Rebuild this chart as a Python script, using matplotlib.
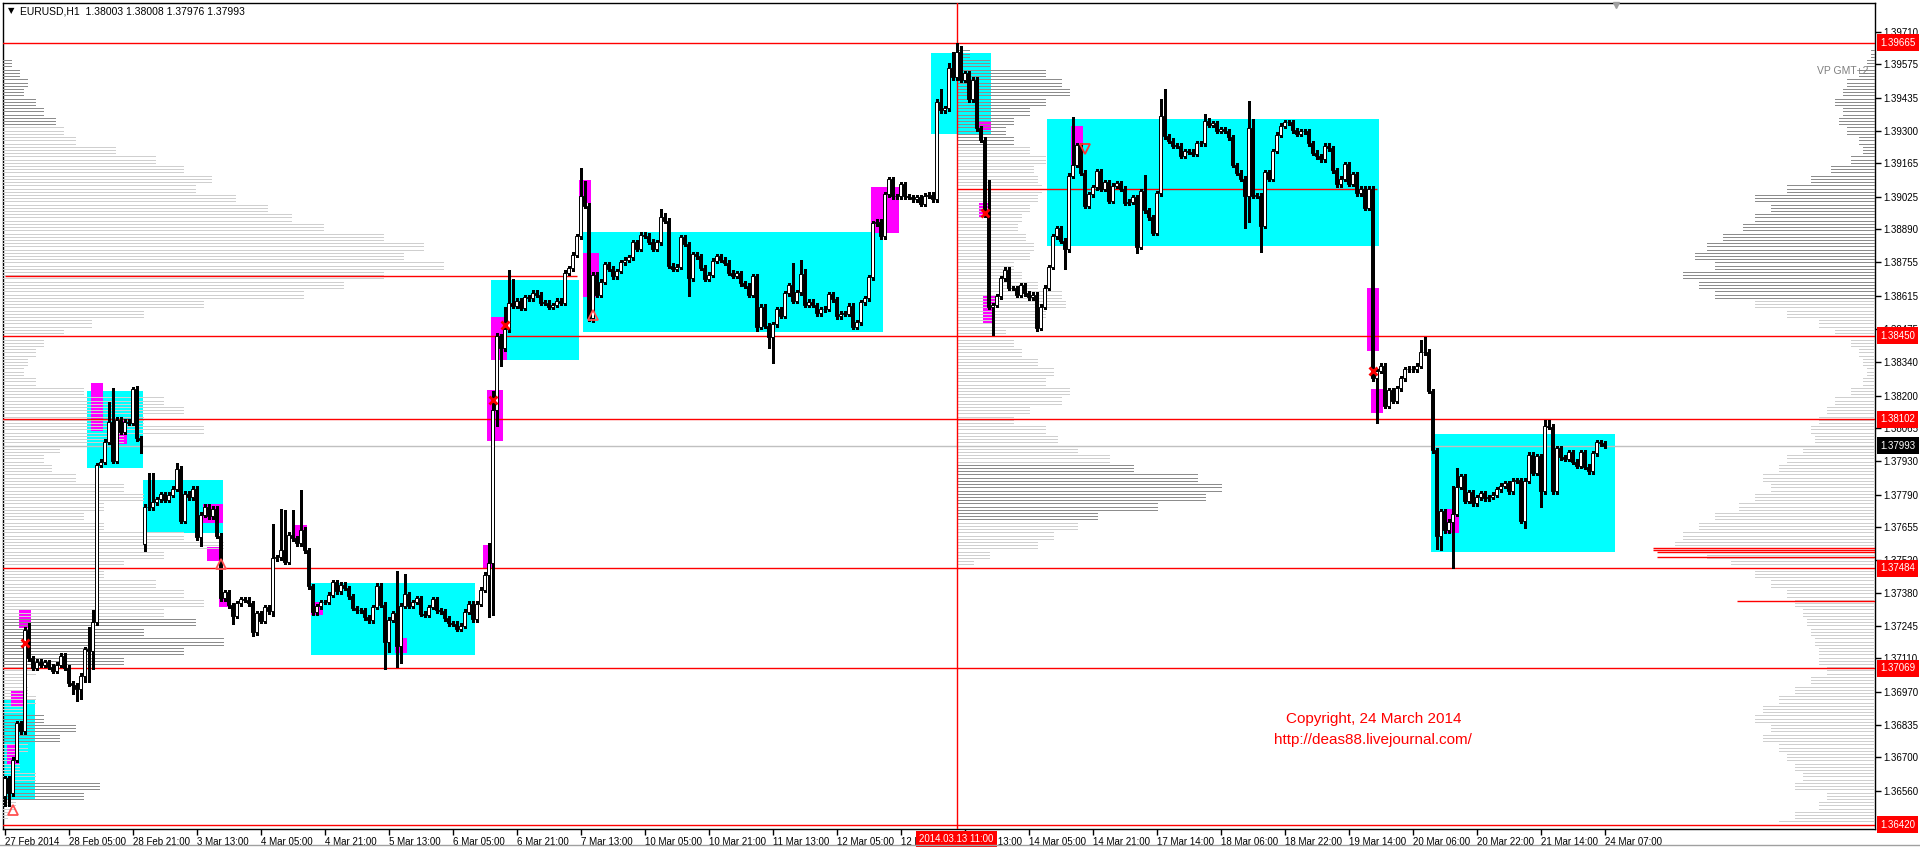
import numpy as np
import matplotlib
matplotlib.use("Agg")
import matplotlib.pyplot as plt
from matplotlib.lines import Line2D

plt.rcParams['font.family'] = ['Liberation Sans', 'DejaVu Sans']

# ---------------- data ----------------
first_open = 1.36540
closes = [
    1.36613, 1.36551, 1.36689, 1.36841, 1.36807, 1.37229, 1.37111, 1.37072, 1.37097, 1.37083,
    1.37093, 1.37076, 1.37059, 1.37083, 1.37122, 1.37072, 1.37007, 1.36998, 1.36982, 1.37038,
    1.37148, 1.37139, 1.37260, 1.37913, 1.37927, 1.38010, 1.38093, 1.37931, 1.38100, 1.38051,
    1.38093, 1.38089, 1.38228, 1.38024, 1.38017, 1.37740, 1.37737, 1.37758, 1.37771, 1.37791,
    1.37768, 1.37789, 1.37814, 1.37897, 1.37681, 1.37793, 1.37778, 1.37814, 1.37612, 1.37706,
    1.37740, 1.37699, 1.37731, 1.37620, 1.37360, 1.37385, 1.37330, 1.37288, 1.37339, 1.37356,
    1.37353, 1.37339, 1.37218, 1.37298, 1.37267, 1.37323, 1.37305, 1.37526, 1.37530, 1.37561,
    1.37512, 1.37623, 1.37609, 1.37588, 1.37644, 1.37558, 1.37409, 1.37301, 1.37326, 1.37344,
    1.37344, 1.37374, 1.37427, 1.37388, 1.37416, 1.37402, 1.37367, 1.37319, 1.37309, 1.37309,
    1.37281, 1.37268, 1.37323, 1.37411, 1.37333, 1.37180, 1.37270, 1.37298, 1.37160, 1.37328,
    1.37377, 1.37328, 1.37344, 1.37360, 1.37295, 1.37290, 1.37323, 1.37356, 1.37309, 1.37305,
    1.37277, 1.37256, 1.37254, 1.37232, 1.37245, 1.37303, 1.37337, 1.37273, 1.37337, 1.37395,
    1.37457, 1.37508, 1.38142, 1.38446, 1.38397, 1.38476, 1.38587, 1.38574, 1.38594, 1.38566,
    1.38608, 1.38605, 1.38628, 1.38619, 1.38587, 1.38587, 1.38570, 1.38577, 1.38594, 1.38587,
    1.38711, 1.38729, 1.38785, 1.38861, 1.39029, 1.38988, 1.38522, 1.38702, 1.38619, 1.38674,
    1.38746, 1.38727, 1.38695, 1.38718, 1.38754, 1.38764, 1.38774, 1.38837, 1.38810, 1.38868,
    1.38865, 1.38840, 1.38810, 1.38837, 1.38941, 1.38926, 1.38739, 1.38727, 1.38735, 1.38858,
    1.38830, 1.38688, 1.38787, 1.38778, 1.38732, 1.38685, 1.38702, 1.38760, 1.38780, 1.38764,
    1.38753, 1.38711, 1.38699, 1.38709, 1.38667, 1.38656, 1.38619, 1.38695, 1.38487, 1.38570,
    1.38490, 1.38443, 1.38497, 1.38559, 1.38533, 1.38626, 1.38660, 1.38595, 1.38630, 1.38704,
    1.38577, 1.38591, 1.38577, 1.38543, 1.38559, 1.38561, 1.38622, 1.38601, 1.38529, 1.38540,
    1.38541, 1.38573, 1.38485, 1.38505, 1.38588, 1.38605, 1.38692, 1.38916, 1.38923, 1.38861,
    1.39036, 1.39099, 1.39027, 1.39027, 1.39078, 1.39027, 1.39025, 1.39016, 1.39023, 1.38996,
    1.39030, 1.39034, 1.39016, 1.39421, 1.39384, 1.39393, 1.39559, 1.39522, 1.39628, 1.39511,
    1.39539, 1.39431, 1.39511, 1.39310, 1.39262, 1.38951, 1.38570, 1.38577, 1.38612, 1.38688,
    1.38723, 1.38647, 1.38647, 1.38619, 1.38660, 1.38626, 1.38608, 1.38619, 1.38483, 1.38570,
    1.38649, 1.38734, 1.38861, 1.38895, 1.38844, 1.38808, 1.39113, 1.39158, 1.39241, 1.39126,
    1.38989, 1.39036, 1.39066, 1.39133, 1.39059, 1.39086, 1.39010, 1.39071, 1.39082, 1.39059,
    1.39002, 1.39006, 1.39023, 1.38819, 1.39050, 1.38969, 1.38941, 1.38877, 1.39041, 1.39361,
    1.39276, 1.39259, 1.39238, 1.39237, 1.39197, 1.39216, 1.39213, 1.39204, 1.39248, 1.39248,
    1.39341, 1.39324, 1.39331, 1.39299, 1.39306, 1.39299, 1.39272, 1.39158, 1.39126, 1.39100,
    1.39031, 1.39310, 1.39031, 1.39031, 1.38906, 1.39128, 1.39100, 1.39216, 1.39283, 1.39320,
    1.39335, 1.39335, 1.39301, 1.39287, 1.39299, 1.39298, 1.39248, 1.39209, 1.39193, 1.39182,
    1.39238, 1.39227, 1.39135, 1.39078, 1.39100, 1.39160, 1.39080, 1.39120, 1.39040, 1.39060,
    1.38980, 1.39060, 1.38273, 1.38303, 1.38324, 1.38159, 1.38224, 1.38179, 1.38231, 1.38273,
    1.38310, 1.38312, 1.38310, 1.38324, 1.38381, 1.38383, 1.38220, 1.37973, 1.37620, 1.37720,
    1.37641, 1.37678, 1.37710, 1.37823, 1.37865, 1.37765, 1.37799, 1.37754, 1.37779, 1.37796,
    1.37775, 1.37780, 1.37789, 1.37812, 1.37826, 1.37837, 1.37803, 1.37847, 1.37850, 1.37682,
    1.37847, 1.37955, 1.37881, 1.37948, 1.37803, 1.38076, 1.38072, 1.37803, 1.37982, 1.37945,
    1.37938, 1.37966, 1.37927, 1.37910, 1.37966, 1.37906, 1.37886, 1.37962, 1.38007, 1.38002,
    1.37993,
]
gap_opens = {35: 1.37584}          # weekend gap
wick_hi = {6: 1.37256, 21: 1.37242, 22: 1.37311, 26: 1.38173, 27: 1.38231, 33: 1.38242,
           36: 1.37880, 37: 1.37880, 43: 1.37920, 67: 1.37668, 69: 1.37730, 70: 1.37724,
           72: 1.37724, 74: 1.37810, 98: 1.37474, 100: 1.37460, 121: 1.37588, 122: 1.38218,
           123: 1.38460, 125: 1.38570, 126: 1.38722, 127: 1.38684, 144: 1.39144, 145: 1.39090,
           164: 1.38975, 165: 1.38960, 197: 1.38750, 199: 1.38764, 200: 1.38727, 234: 1.39472,
           236: 1.39580, 237: 1.39628, 238: 1.39663, 239: 1.39650, 246: 1.39096, 267: 1.39356,
           285: 1.39117, 289: 1.39432, 290: 1.39473, 300: 1.39370, 311: 1.39424, 312: 1.39350,
           354: 1.38432, 355: 1.38443, 362: 1.37826, 363: 1.37899, 385: 1.38100, 386: 1.38100}
wick_lo = {0: 1.36496, 1: 1.36496, 17: 1.36963, 18: 1.36935, 19: 1.36940, 20: 1.37014,
           21: 1.37014, 22: 1.37065, 34: 1.37964, 35: 1.37554, 49: 1.37578, 57: 1.37253,
           62: 1.37205, 67: 1.37287, 95: 1.37067, 96: 1.37135, 98: 1.37074, 99: 1.37090,
           121: 1.37281, 122: 1.37290, 123: 1.38076, 124: 1.38325, 146: 1.38515, 147: 1.38508,
           171: 1.38612, 188: 1.38467, 191: 1.38397, 192: 1.38335, 247: 1.38453, 258: 1.38467,
           265: 1.38725, 283: 1.38792, 310: 1.38895, 311: 1.38923, 314: 1.38795, 343: 1.38089,
           358: 1.37565, 359: 1.37561, 362: 1.37485, 379: 1.37671, 380: 1.37651, 384: 1.37738,
           387: 1.37793}

date_labels = ['27 Feb 2014', '28 Feb 05:00', '28 Feb 21:00', '3 Mar 13:00', '4 Mar 05:00',
               '4 Mar 21:00', '5 Mar 13:00', '6 Mar 05:00', '6 Mar 21:00', '7 Mar 13:00',
               '10 Mar 05:00', '10 Mar 21:00', '11 Mar 13:00', '12 Mar 05:00', '12 Mar 21:00',
               '13 Mar 13:00', '14 Mar 05:00', '14 Mar 21:00', '17 Mar 14:00', '18 Mar 06:00',
               '18 Mar 22:00', '19 Mar 14:00', '20 Mar 06:00', '20 Mar 22:00', '21 Mar 14:00',
               '24 Mar 07:00']
bars_per_label = 16

price_ticks = [1.39710, 1.39575, 1.39435, 1.39300, 1.39165, 1.39025, 1.38890, 1.38755,
               1.38615, 1.38475, 1.38340, 1.38200, 1.38065, 1.37930, 1.37790, 1.37655,
               1.37520, 1.37380, 1.37245, 1.37110, 1.36970, 1.36835, 1.36700, 1.36560]
red_levels = [1.39665, 1.38450, 1.38102, 1.37484, 1.37069, 1.36420]
last_price = 1.37993
cross_bar = 238
cross_label = '2014.03.13 11:00'

# zones: start bar, end bar, top price, bottom price
cyan_zones = [(0, 7, 1.36938, 1.36523), (21, 34, 1.38220, 1.37901), (35, 54, 1.37851, 1.37631),
              (77, 117, 1.37423, 1.37125), (122, 143, 1.38681, 1.38349),
              (145, 219, 1.38880, 1.38465), (232, 246, 1.39623, 1.39287),
              (261, 343, 1.39349, 1.38821), (357, 402, 1.38042, 1.37552)]
magenta_zones = [(1, 3, 1.36751, 1.36668), (2, 5, 1.36975, 1.36909), (4, 6, 1.37311, 1.37237),
                 (22, 24, 1.38254, 1.38054), (28, 30, 1.38100, 1.38000), (50, 54, 1.37751, 1.37672),
                 (51, 53, 1.37573, 1.37515), (54, 56, 1.37361, 1.37324), (73, 75, 1.37664, 1.37601),
                 (77, 79, 1.37344, 1.37290), (98, 100, 1.37194, 1.37132), (120, 122, 1.37581, 1.37486),
                 (121, 124, 1.38224, 1.38013), (122, 125, 1.38527, 1.38349), (144, 146, 1.39096, 1.39001),
                 (145, 148, 1.38793, 1.38610), (217, 223, 1.39067, 1.38877), (244, 246, 1.39340, 1.39303),
                 (244, 246, 1.39000, 1.38942), (245, 247, 1.38618, 1.38502), (267, 269, 1.39320, 1.39154),
                 (341, 343, 1.38648, 1.38386), (342, 344, 1.38228, 1.38129), (361, 363, 1.37731, 1.37631)]
partial_red = [(0, 143, 1.38699), (238, 343, 1.39058), (412, 470, 1.37568), (412, 470, 1.37560),
               (413, 470, 1.37552), (413, 470, 1.37531), (433, 470, 1.37347)]
x_marks = [(5, 1.37174), (122, 1.38183), (125, 1.38494), (245, 1.38959), (342, 1.38303)]
up_arrows = [(2, 1.36481), (54, 1.37501), (147, 1.38536)]
down_arrows = [(270, 1.39224)]

# volume profiles: first bin price, bar lengths per 0.0004 bin
vp_step = 0.0004
vp_left_top = 1.3958
vp_left_len = [2, 4, 6, 5, 8, 10, 13, 15, 18, 28, 38, 45, 52, 48, 58, 66, 72, 80, 95, 105,
               100, 110, 95, 85, 75, 50, 35, 22, 15, 10, 8, 6, 5, 8, 20, 40, 45, 35, 50, 30,
               14, 10, 12, 18, 30, 35, 25, 20, 25, 45, 55, 40, 30, 25, 38, 45, 50, 40, 48, 35,
               55, 45, 30, 8, 5, 6, 8, 5, 10, 18, 14, 6, 3, 4, 8, 24, 20, 3, 1]
vp_left_dark = [(1.3960, 1.3933), (1.3727, 1.3709), (1.3687, 1.3677), (1.3659, 1.3653)]
vp_mid_top = 1.3962
vp_mid_len = [3, 8, 22, 26, 28, 22, 18, 14, 12, 14, 18, 22, 19, 20, 21, 20, 18, 16, 15, 17,
              19, 18, 14, 16, 20, 26, 27, 22, 20, 12, 14, 16, 20, 24, 22, 28, 26, 18, 14, 22,
              25, 30, 38, 44, 60, 66, 62, 50, 35, 30, 24, 20, 8, 4]
vp_mid_dark = [(1.3963, 1.3925), (1.3791, 1.3769)]
vp_right_top = 1.3962
vp_right_len = [1, 2, 4, 7, 8, 10, 8, 9, 7, 4, 3, 6, 11, 16, 22, 30, 26, 30, 33, 38,
                42, 45, 40, 48, 44, 40, 30, 22, 14, 10, 6, 4, 3, 2, 3, 6, 10, 12, 14, 16,
                15, 18, 22, 24, 28, 26, 30, 34, 40, 44, 48, 50, 42, 36, 30, 26, 22, 20, 18, 17,
                16, 15, 14, 14, 12, 16, 20, 24, 28, 30, 26, 28, 24, 22, 20, 18, 20, 12, 14, 20, 24]
vp_right_dark = [(1.3963, 1.3861)]

# ---------------- figure ----------------
W, H = 1920, 850
fig = plt.figure(figsize=(W / 100, H / 100), dpi=100)
fig.patch.set_facecolor('white')
ax = fig.add_axes([3 / W, 21 / H, 1872 / W, 826 / H])
x_lo, x_hi = -0.4, 467.6
ax.set_xlim(x_lo, x_hi)
ax.set_ylim(1.36402, 1.39830)
for s in ax.spines.values():
    s.set_color('black')
    s.set_linewidth(1.0)

# zones
for s, e, t, b in cyan_zones:
    ax.add_patch(plt.Rectangle((s - 0.5, b), e - s + 1, t - b, color='#00ffff', lw=0, zorder=1))
for s, e, t, b in magenta_zones:
    ax.add_patch(plt.Rectangle((s - 0.5, b), e - s + 1, t - b, color='#ff00ff', lw=0, zorder=2))


def draw_profile(top, lengths, anchor, direction, dark_ranges):
    ys, x1, cols = [], [], []
    for k, L in enumerate(lengths):
        c = top - k * vp_step
        dark = any(lo <= c <= hi for hi, lo in dark_ranges)
        for off in (-vp_step / 3, 0, vp_step / 3):
            ys.append(c + off)
            x1.append(anchor + direction * L)
            cols.append('#8c8c8c' if dark else '#cfcfcf')
    ax.hlines(ys, anchor, x1, colors=cols, lw=0.5, zorder=3, antialiased=False)


draw_profile(vp_left_top, vp_left_len, x_lo, 1, vp_left_dark)
draw_profile(vp_mid_top, vp_mid_len, cross_bar, 1, vp_mid_dark)
draw_profile(vp_right_top, vp_right_len, x_hi, -1, vp_right_dark)

# level lines
ax.axhline(last_price, color='#c0c0c0', lw=1, zorder=3.5)
for lv in red_levels:
    ax.axhline(lv, color='red', lw=1, zorder=4)
for s, e, lv in partial_red:
    ax.hlines(lv, s, e, color='red', lw=1, zorder=4)
ax.axvline(cross_bar, color='red', lw=1, zorder=4)

# candles
c = np.array(closes)
n = len(c)
xb = np.arange(n)
o = np.r_[first_open, c[:-1]]
for b, v in gap_opens.items():
    o[b] = v
wick_pad = 0.00010
hi = np.maximum(o, c) + wick_pad
lo = np.minimum(o, c) - wick_pad
for b, v in wick_hi.items():
    hi[b] = max(hi[b], v)
for b, v in wick_lo.items():
    lo[b] = min(lo[b], v)
up = c >= o
ax.vlines(xb, lo, hi, color='black', lw=0.8, zorder=5, antialiased=False)
body = np.maximum(np.abs(c - o), 0.00002)
ax.bar(xb, body, bottom=np.minimum(o, c), width=0.62,
       color=np.where(up, 'white', 'black'), edgecolor='black', linewidth=0.7, zorder=6)

# signals
for bx, py in x_marks:
    ax.plot(bx, py, marker='x', color='red', ms=6, mew=2, zorder=7)
for bx, py in up_arrows:
    ax.plot(bx, py, marker='^', mfc='none', mec='#ff5050', ms=7, mew=1.3, zorder=7)
for bx, py in down_arrows:
    ax.plot(bx, py, marker='v', mfc='none', mec='#ff3030', ms=7, mew=1.3, zorder=7)

# axes ticks
ax.yaxis.tick_right()
ax.set_yticks(price_ticks)
ax.set_yticklabels([f'{v:.5f}' for v in price_ticks])
ax.tick_params(axis='y', direction='out', length=4, width=1, pad=2, labelsize=7, colors='black')
ax.set_xticks(np.arange(len(date_labels)) * bars_per_label)
ax.set_xticklabels(date_labels, ha='left')
ax.tick_params(axis='x', direction='out', length=4, width=1, pad=2, labelsize=7, colors='black')

ytr = ax.get_yaxis_transform()
for lv in red_levels:
    ax.text(1 + 5 / 1872, lv, f'{lv:.5f}', transform=ytr, color='white', fontsize=7,
            va='center', ha='left', clip_on=False, zorder=10,
            bbox=dict(boxstyle='square,pad=0.35', fc='red', ec='none'))
ax.text(1 + 5 / 1872, last_price, f'{last_price:.5f}', transform=ytr, color='white', fontsize=7,
        va='center', ha='left', clip_on=False, zorder=10,
        bbox=dict(boxstyle='square,pad=0.35', fc='black', ec='none'))
ax.text(cross_bar, -10 / 826, cross_label, transform=ax.get_xaxis_transform(), color='white',
        fontsize=7, va='center', ha='center', clip_on=False, zorder=10,
        bbox=dict(boxstyle='square,pad=0.35', fc='red', ec='none'))

# texts
fig.text(8 / W, 1 - 11 / H, '\u25bc', fontsize=6, va='center', ha='left', family='DejaVu Sans')
fig.text(20 / W, 1 - 11 / H, 'EURUSD,H1  1.38003 1.38008 1.37976 1.37993', fontsize=7.5,
         va='center', ha='left')
ax.text(0.732, 0.133, 'Copyright, 24 March 2014', transform=ax.transAxes, color='red',
        fontsize=11, ha='center', va='center', zorder=8)
ax.text(0.732, 0.108, 'http://deas88.livejournal.com/', transform=ax.transAxes, color='red',
        fontsize=11, ha='center', va='center', zorder=8)
ax.text(0.9965, 1 - 68 / 826, 'VP GMT+2', transform=ax.transAxes, color='#808080',
        fontsize=7.5, ha='right', va='center', zorder=8)
ax.plot(402.9, 1.3982, marker='v', color='#a0a0a0', ms=5, zorder=8, clip_on=False)

fig.add_artist(Line2D([0, 1], [5 / H, 5 / H], color='#a0a0a0', lw=1))

fig.savefig('out.png', dpi=100)
